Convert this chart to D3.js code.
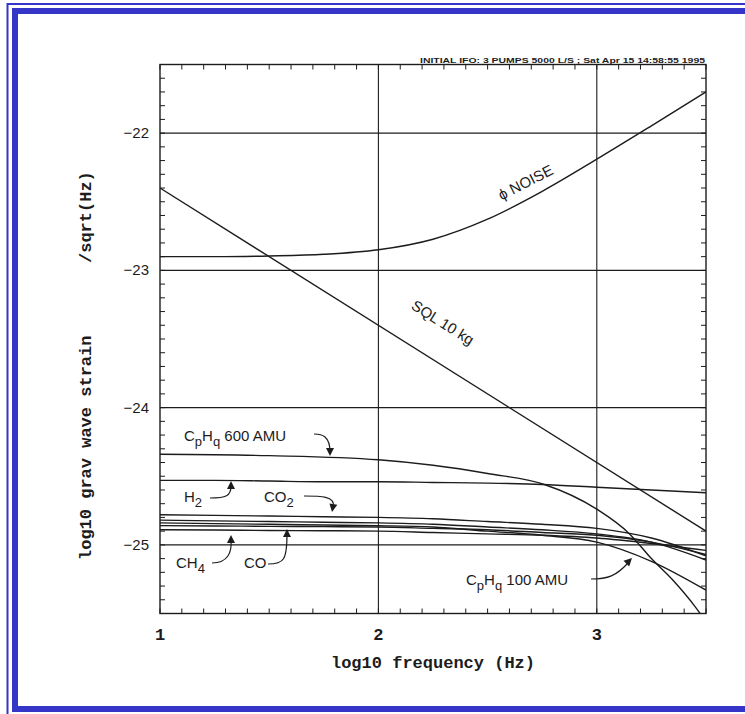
<!DOCTYPE html>
<html>
<head>
<meta charset="utf-8">
<script src="https://cdn.jsdelivr.net/npm/d3@7/dist/d3.min.js"></script>
<style>
  html, body { margin: 0; padding: 0; background: #fff; }
  svg { display: block; }
</style>
</head>
<body>
<svg id="chart" width="745" height="714"></svg>
<script>
// ---- data: log10 strain noise vs log10 frequency ----
const freqGrid = [1, 1.25, 1.5, 1.75, 2, 2.25, 2.5, 2.75, 3, 3.25, 3.5];

const sqlX = [1, 3.5];
const sqlY = [-22.4, -24.9];

const phaseNoise = [-22.90, -22.90, -22.895, -22.883, -22.85, -22.773, -22.627, -22.424, -22.19, -21.947, -21.70];

const amu600X = [1, 1.5, 2, 2.25, 2.5, 2.76, 3, 3.15, 3.25, 3.35, 3.45, 3.5];
const amu600Y = [-24.34, -24.35, -24.38, -24.42, -24.48, -24.56, -24.74, -24.92, -25.10, -25.26, -25.45, -25.56];

const h2 = [-24.53, -24.53, -24.535, -24.54, -24.54, -24.545, -24.55, -24.56, -24.58, -24.60, -24.62];
const co2 = [-24.78, -24.785, -24.79, -24.795, -24.80, -24.81, -24.83, -24.85, -24.88, -24.95, -25.08];
const gasX = [-24.82, -24.825, -24.83, -24.835, -24.84, -24.85, -24.87, -24.89, -24.92, -24.98, -25.11];
const amu100 = [-24.84, -24.845, -24.85, -24.855, -24.86, -24.87, -24.90, -24.93, -24.98, -25.12, -25.33];
const co = [-24.86, -24.862, -24.865, -24.867, -24.87, -24.88, -24.89, -24.91, -24.93, -24.98, -25.07];
const ch4 = [-24.89, -24.892, -24.895, -24.897, -24.90, -24.91, -24.92, -24.93, -24.95, -24.99, -25.04];

const xTicks = [1, 2, 3];
const yTicks = [-22, -23, -24, -25];
const headerText = "INITIAL IFO: 3 PUMPS 5000 L/S ; Sat Apr 15 14:58:55 1995";

// ---- layout ----
const svg = d3.select("#chart");
const pL = 160, pR = 706, pT = 64.5, pB = 613.5;
const x = d3.scaleLinear().domain([1, 3.5]).range([pL, pR]);
const y = d3.scaleLinear().domain([-25.5, -21.5]).range([pB, pT]);
const ink = "#1c1c1c";
const blue = "#3535c8";

// blue double frame
svg.append("rect").attr("x", 7.5).attr("y", 4).attr("width", 800).attr("height", 800)
  .attr("fill", "none").attr("stroke", blue).attr("stroke-width", 2);
svg.append("rect").attr("x", 15).attr("y", 11).attr("width", 800).attr("height", 698)
  .attr("fill", "none").attr("stroke", blue).attr("stroke-width", 6);

const clipId = "plotclip";
svg.append("clipPath").attr("id", clipId).append("rect")
  .attr("x", pL).attr("y", pT).attr("width", pR - pL).attr("height", pB - pT);

// grid lines at major ticks
const g = svg.append("g");
g.selectAll(".vgrid").data([2, 3]).join("line")
  .attr("x1", d => x(d)).attr("x2", d => x(d)).attr("y1", pT).attr("y2", pB)
  .attr("stroke", ink).attr("stroke-width", 1.1);
g.selectAll(".hgrid").data(yTicks).join("line")
  .attr("x1", pL).attr("x2", pR).attr("y1", d => y(d)).attr("y2", d => y(d))
  .attr("stroke", ink).attr("stroke-width", 1.1);

// minor ticks on all four sides (inward)
const minorX = d3.range(10, 36).map(v => v / 10);
const minorY = d3.range(-255, -214).map(v => v / 10);
const tickLen = 5;
g.selectAll(".tb").data(minorX).join("line")
  .attr("x1", d => x(d)).attr("x2", d => x(d)).attr("y1", pB).attr("y2", pB - tickLen)
  .attr("stroke", ink).attr("stroke-width", 1);
g.selectAll(".tt").data(minorX).join("line")
  .attr("x1", d => x(d)).attr("x2", d => x(d)).attr("y1", pT).attr("y2", pT + tickLen)
  .attr("stroke", ink).attr("stroke-width", 1);
g.selectAll(".tl").data(minorY).join("line")
  .attr("x1", pL).attr("x2", pL + tickLen).attr("y1", d => y(d)).attr("y2", d => y(d))
  .attr("stroke", ink).attr("stroke-width", 1);
g.selectAll(".tr").data(minorY).join("line")
  .attr("x1", pR).attr("x2", pR - tickLen).attr("y1", d => y(d)).attr("y2", d => y(d))
  .attr("stroke", ink).attr("stroke-width", 1);

// frame
svg.append("rect").attr("x", pL).attr("y", pT).attr("width", pR - pL).attr("height", pB - pT)
  .attr("fill", "none").attr("stroke", ink).attr("stroke-width", 1.4);

// tick labels
svg.selectAll(".xl").data(xTicks).join("text")
  .attr("x", d => x(d)).attr("y", 640).attr("text-anchor", "middle")
  .attr("font-family", "Liberation Mono, monospace").attr("font-size", 17).attr("font-weight", "bold")
  .attr("fill", ink).text(d => d);
svg.selectAll(".yl").data(yTicks).join("text")
  .attr("x", 149).attr("y", d => y(d) + 5).attr("text-anchor", "end")
  .attr("font-family", "Liberation Sans, Arial, sans-serif").attr("font-size", 15)
  .attr("fill", ink).text(d => "\u2212" + Math.abs(d));

// axis titles
const titleFont = { family: "Liberation Mono, monospace", size: 17 };
svg.append("text").attr("x", (pL + pR) / 2).attr("y", 668).attr("text-anchor", "middle")
  .attr("font-family", titleFont.family).attr("font-size", titleFont.size).attr("font-weight", "bold")
  .attr("fill", ink).text("log10 frequency (Hz)");
svg.append("text").attr("transform", "translate(91,560) rotate(-90)").attr("text-anchor", "start")
  .attr("font-family", titleFont.family).attr("font-size", titleFont.size).attr("font-weight", "bold")
  .attr("fill", ink).text("log10 grav wave strain");
svg.append("text").attr("transform", "translate(91,263) rotate(-90)").attr("text-anchor", "start")
  .attr("font-family", titleFont.family).attr("font-size", titleFont.size).attr("font-weight", "bold")
  .attr("fill", ink).text("/sqrt(Hz)");

// header line
svg.append("text").attr("x", 420).attr("y", 63)
  .attr("font-family", "Liberation Sans, Arial, sans-serif").attr("font-size", 6.5).attr("font-weight", "bold")
  .attr("textLength", 285).attr("lengthAdjust", "spacingAndGlyphs")
  .attr("fill", ink).text(headerText);

// curves
const plot = svg.append("g").attr("clip-path", `url(#${clipId})`);
const line = d3.line().x(d => x(d[0])).y(d => y(d[1])).curve(d3.curveMonotoneX);
const zipGrid = arr => freqGrid.map((f, i) => [f, arr[i]]);
const series = [
  sqlX.map((f, i) => [f, sqlY[i]]),
  zipGrid(phaseNoise),
  amu600X.map((f, i) => [f, amu600Y[i]]),
  zipGrid(h2), zipGrid(co2), zipGrid(gasX), zipGrid(amu100), zipGrid(co), zipGrid(ch4)
];
plot.selectAll(".curve").data(series).join("path")
  .attr("d", line).attr("fill", "none").attr("stroke", ink).attr("stroke-width", 1.4);

// in-line labels
svg.append("text").attr("transform", `translate(440,327) rotate(32)`)
  .attr("text-anchor", "middle").attr("font-family", "Liberation Sans, Arial, sans-serif")
  .attr("font-size", 15).attr("fill", ink).text("SQL 10 kg");
svg.append("text").attr("transform", `translate(528,187) rotate(-27)`)
  .attr("text-anchor", "middle").attr("font-family", "Liberation Sans, Arial, sans-serif")
  .attr("font-size", 15).attr("fill", ink).text("\u03d5 NOISE");

// labels with subscripts
function chem(xp, yp, parts) {
  const t = svg.append("text").attr("x", xp).attr("y", yp)
    .attr("font-family", "Liberation Sans, Arial, sans-serif").attr("font-size", 15).attr("fill", ink);
  parts.forEach(p => {
    const s = t.append("tspan").text(p[0]);
    if (p[1]) s.attr("dy", 5).attr("font-size", 13);
    else if (p[2]) s.attr("dy", -5);
  });
  return t;
}
chem(184, 441, [["C"], ["p", 1], ["H", 0, 1], ["q", 1], [" 600 AMU", 0, 1]]);
chem(184, 502, [["H"], ["2", 1]]);
chem(264, 502, [["CO"], ["2", 1]]);
chem(176, 568, [["CH"], ["4", 1]]);
chem(244, 568, [["CO"]]);
chem(466, 585, [["C"], ["p", 1], ["H", 0, 1], ["q", 1], [" 100 AMU", 0, 1]]);

// callout arrows
const arrows = [
  { path: "M314,434 C322,434 330,436 330,452", tip: [330, 456], ang: 90 },
  { path: "M210,498 C226,498 231,496 231,486", tip: [231, 481], ang: -90 },
  { path: "M304,496 C320,496 336,496 333,507", tip: [332, 512], ang: 100 },
  { path: "M212,563 C228,563 232,552 231,540", tip: [231, 535], ang: -90 },
  { path: "M268,564 C284,564 287,560 287,534", tip: [287, 529], ang: -90 },
  { path: "M591,579 C608,579 616,576 628,563", tip: [632, 558], ang: -45 }
];
arrows.forEach(a => {
  svg.append("path").attr("d", a.path).attr("fill", "none").attr("stroke", ink).attr("stroke-width", 1.2);
  svg.append("path").attr("d", "M0,0 L-8,-4 L-8,4 Z").attr("fill", ink)
    .attr("transform", `translate(${a.tip[0]},${a.tip[1]}) rotate(${a.ang})`);
});
</script>
</body>
</html>
